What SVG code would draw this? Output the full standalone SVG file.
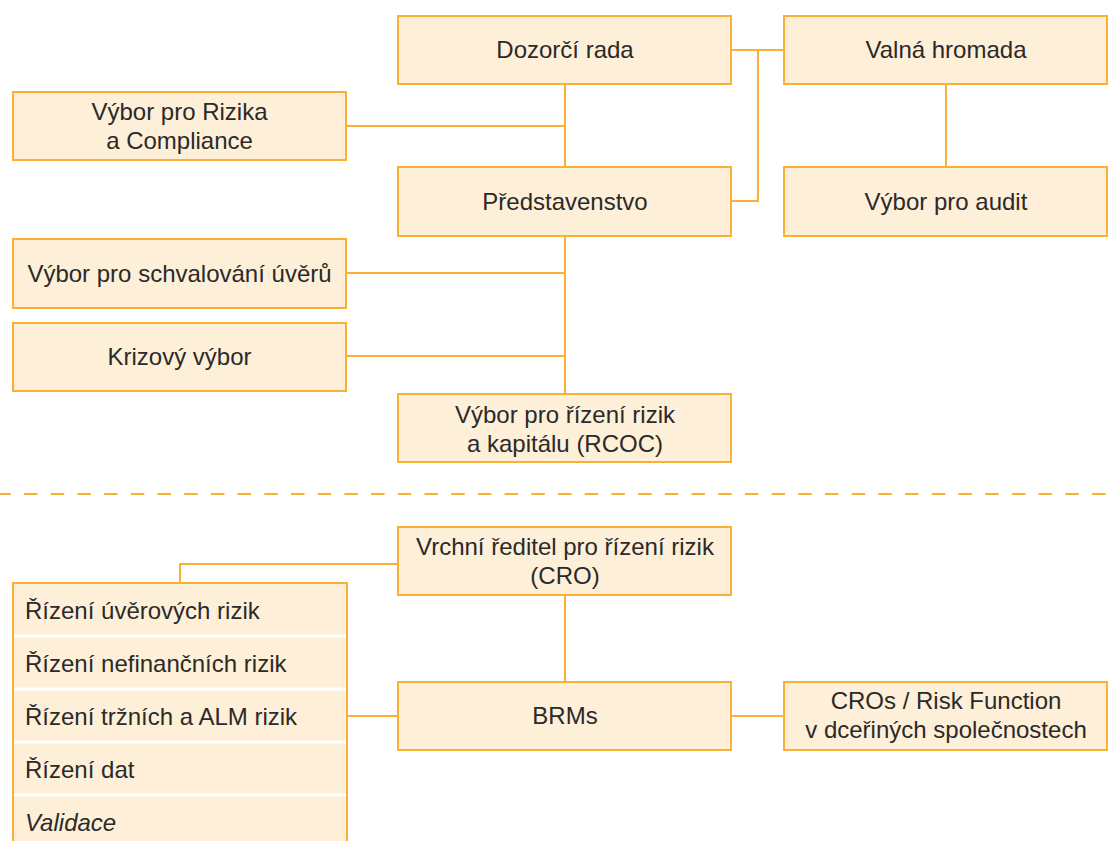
<svg xmlns="http://www.w3.org/2000/svg" width="1108" height="841" viewBox="0 0 1108 841">
<style>
.box{fill:#FEEFD8;stroke:#FBB034;stroke-width:2}
.ln{fill:none;stroke:#FBB034;stroke-width:2}
.t{font-family:"Liberation Sans",Arial,sans-serif;font-size:24px;fill:#2B2A29;text-anchor:middle}
.tl{font-family:"Liberation Sans",Arial,sans-serif;font-size:24px;fill:#2B2A29}
</style>
<rect width="1108" height="841" fill="#FFFFFF"/>
<g id="connectors">
<path class="ln" d="M731 50 H784"/>
<path class="ln" d="M758 50 V201 H731"/>
<path class="ln" d="M946 84 V167"/>
<path class="ln" d="M565 84 V167"/>
<path class="ln" d="M346 126 H565"/>
<path class="ln" d="M565 236 V394"/>
<path class="ln" d="M346 273 H565"/>
<path class="ln" d="M346 356 H565"/>
<path class="ln" d="M0 494 H1108" stroke-dasharray="13.5 13.2" stroke-dashoffset="2.7"/>
<path class="ln" d="M398 564 H180 V583"/>
<path class="ln" d="M565 595 V682"/>
<path class="ln" d="M347 716 H398"/>
<path class="ln" d="M731 716 H784"/>
</g>
<g id="dozorci">
<rect class="box" x="398" y="16" width="333" height="68"/>
<text class="t" x="565" y="58">Dozorčí rada</text>
</g>
<g id="valna">
<rect class="box" x="784" y="16" width="323" height="68"/>
<text class="t" x="946" y="58">Valná hromada</text>
</g>
<g id="rizika-compliance">
<rect class="box" x="13" y="92" width="333" height="68"/>
<text class="t" x="179.5" y="120">Výbor pro Rizika</text>
<text class="t" x="179.5" y="149">a Compliance</text>
</g>
<g id="predstavenstvo">
<rect class="box" x="398" y="167" width="333" height="69"/>
<text class="t" x="565" y="210">Představenstvo</text>
</g>
<g id="audit">
<rect class="box" x="784" y="167" width="323" height="69"/>
<text class="t" x="946" y="210">Výbor pro audit</text>
</g>
<g id="schvalovani">
<rect class="box" x="13" y="239" width="333" height="69"/>
<text class="t" x="179.5" y="282">Výbor pro schvalování úvěrů</text>
</g>
<g id="krizovy">
<rect class="box" x="13" y="323" width="333" height="68"/>
<text class="t" x="179.5" y="365">Krizový výbor</text>
</g>
<g id="rcoc">
<rect class="box" x="398" y="394" width="333" height="68"/>
<text class="t" x="565" y="423">Výbor pro řízení rizik</text>
<text class="t" x="565" y="452">a kapitálu (RCOC)</text>
</g>
<g id="cro">
<rect class="box" x="398" y="527" width="333" height="68"/>
<text class="t" x="565" y="555">Vrchní ředitel pro řízení rizik</text>
<text class="t" x="565" y="584">(CRO)</text>
</g>
<g id="seznam">
<rect x="14" y="584" width="332" height="260" fill="#FEEFD8"/>
<path d="M14 636 H346 M14 689 H346 M14 742 H346 M14 795 H346" stroke="#FFFFFF" stroke-width="3"/>
<path class="ln" d="M13 845 V583 H347 V845"/>
<text class="tl" x="25" y="619">Řízení úvěrových rizik</text>
<text class="tl" x="25" y="672">Řízení nefinančních rizik</text>
<text class="tl" x="25" y="725">Řízení tržních a ALM rizik</text>
<text class="tl" x="25" y="778">Řízení dat</text>
<text class="tl" x="25" y="831" font-style="italic">Validace</text>
</g>
<g id="brms">
<rect class="box" x="398" y="682" width="333" height="68"/>
<text class="t" x="565" y="724">BRMs</text>
</g>
<g id="cros">
<rect class="box" x="784" y="682" width="323" height="68"/>
<text class="t" x="946" y="709">CROs / Risk Function</text>
<text class="t" x="946" y="738">v dceřiných společnostech</text>
</g>
</svg>
